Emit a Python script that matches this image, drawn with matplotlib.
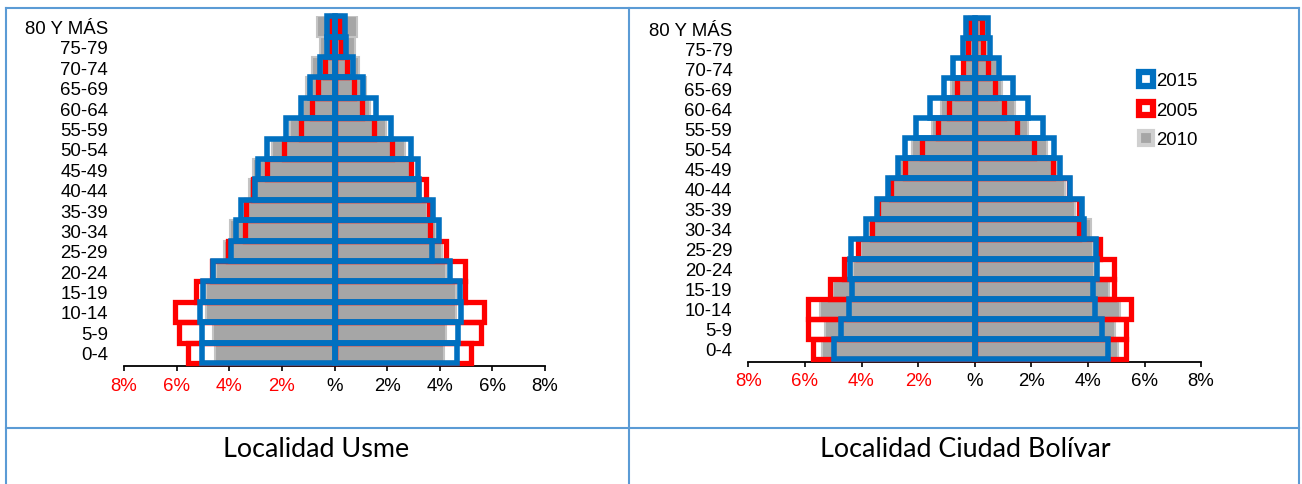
import numpy as np
import matplotlib
matplotlib.use("Agg")
import matplotlib.pyplot as plt
from matplotlib.patches import Rectangle
from matplotlib.lines import Line2D

# grupos de edad, de abajo hacia arriba
grupos = ["0-4", "5-9", "10-14", "15-19", "20-24", "25-29", "30-34", "35-39",
          "40-44", "45-49", "50-54", "55-59", "60-64", "65-69", "70-74", "75-79",
          "80 Y MÁS"]

# Localidad Usme (% de la poblacion), hombres = lado izquierdo
usme_h_2015 = [5.02, 5.03, 5.12, 5.00, 4.62, 3.93, 3.73, 3.56, 3.03, 2.90, 2.58, 1.85, 1.29, 0.94, 0.56, 0.30, 0.27]
usme_m_2015 = [4.66, 4.68, 4.79, 4.76, 4.38, 3.72, 3.98, 3.75, 3.20, 3.18, 2.89, 2.16, 1.57, 1.09, 0.71, 0.43, 0.39]
usme_h_2005 = [5.55, 5.90, 6.06, 5.27, 4.65, 4.05, 3.41, 3.35, 3.10, 2.56, 1.91, 1.28, 0.87, 0.62, 0.37, 0.15, 0.12]
usme_m_2005 = [5.18, 5.55, 5.68, 4.95, 4.95, 4.23, 3.62, 3.60, 3.46, 2.92, 2.19, 1.49, 1.03, 0.73, 0.49, 0.23, 0.20]
usme_h_2010 = [4.55, 4.62, 4.87, 4.87, 4.50, 4.20, 3.98, 3.30, 3.25, 3.09, 2.39, 1.70, 1.19, 1.09, 0.87, 0.56, 0.68]
usme_m_2010 = [4.16, 4.23, 4.60, 4.61, 4.23, 4.10, 3.85, 3.50, 3.30, 2.99, 2.67, 1.97, 1.34, 1.20, 0.94, 0.77, 0.85]

# Localidad Ciudad Bolivar
cb_h_2015 = [4.98, 4.72, 4.45, 4.33, 4.39, 4.37, 3.84, 3.46, 3.07, 2.72, 2.48, 2.07, 1.58, 1.10, 0.75, 0.42, 0.32]
cb_m_2015 = [4.72, 4.49, 4.26, 4.18, 4.31, 4.27, 3.86, 3.80, 3.36, 3.01, 2.80, 2.42, 1.87, 1.36, 0.86, 0.54, 0.48]
cb_h_2005 = [5.71, 5.89, 5.89, 5.12, 4.62, 4.12, 3.64, 3.40, 2.97, 2.45, 1.86, 1.31, 0.90, 0.61, 0.42, 0.25, 0.16]
cb_m_2005 = [5.35, 5.35, 5.52, 4.92, 4.92, 4.42, 3.70, 3.67, 3.34, 2.76, 2.08, 1.49, 1.04, 0.72, 0.48, 0.31, 0.25]
cb_h_2010 = [5.40, 5.28, 5.46, 5.00, 4.30, 4.02, 3.72, 3.35, 2.95, 2.65, 2.22, 1.52, 1.20, 0.85, 0.35, 0.30, 0.20]
cb_m_2010 = [5.07, 4.95, 5.13, 4.75, 4.20, 4.19, 4.10, 3.55, 3.20, 2.90, 2.54, 1.89, 1.42, 0.98, 0.78, 0.40, 0.35]

ticks_x = [-8, -6, -4, -2, 0, 2, 4, 6, 8]

azul = "#0070C0"
rojo = "#FF0000"
gris = "#A6A6A6"
borde_tabla = "#5B9BD5"

plt.rcParams["font.family"] = ["Liberation Sans", "DejaVu Sans"]

fig = plt.figure(figsize=(13.02, 4.85), dpi=100)
W, H = 1302, 485


def piramide(rect, h15, m15, h05, m05, h10, m10, ylo):
    ax = fig.add_axes(rect)
    y = np.arange(len(grupos))
    # 2010: barras grises rellenas
    ax.barh(y, -np.array(h10), height=1.0, color=gris, edgecolor="#C4C4C4", linewidth=1.5, zorder=2)
    ax.barh(y, m10, height=1.0, color=gris, edgecolor="#C4C4C4", linewidth=1.5, zorder=2)
    # 2005: solo contorno rojo
    ax.barh(y, -np.array(h05), height=1.0, fill=False, edgecolor=rojo, linewidth=3.8, zorder=3, clip_on=False)
    ax.barh(y, m05, height=1.0, fill=False, edgecolor=rojo, linewidth=3.8, zorder=3, clip_on=False)
    # 2015: contorno azul
    ax.barh(y, -np.array(h15), height=1.0, fill=False, edgecolor=azul, linewidth=4.0, zorder=4, clip_on=False)
    ax.barh(y, m15, height=1.0, fill=False, edgecolor=azul, linewidth=4.0, zorder=4, clip_on=False)

    ax.set_xlim(-8, 8)
    ax.set_ylim(ylo, len(grupos) - 0.5)
    ax.set_yticks(y, grupos)
    ax.tick_params(axis="y", length=0, pad=11.5, labelsize=13.4)
    ax.set_xticks(ticks_x, [f"{abs(t)}%" if t != 0 else "%" for t in ticks_x])
    ax.tick_params(axis="x", length=3.6, width=1.2, pad=4, labelsize=13.4, direction="out")
    for lab, t in zip(ax.get_xticklabels(), ticks_x):
        lab.set_color(rojo if t < 0 else "black")
    for s in ["top", "left", "right"]:
        ax.spines[s].set_visible(False)
    ax.spines["bottom"].set_linewidth(1.3)
    ax.set_facecolor("none")

    # eje vertical en 0 con marcas
    sec = ax.secondary_yaxis(0.5)
    sec.set_alignment("left")
    sec.set_yticks(np.arange(len(grupos) + 1) - 0.5)
    sec.set_yticks(y, minor=True)
    sec.set_yticklabels([])
    sec.tick_params(which="major", direction="out", length=3.5, width=1.1)
    sec.tick_params(which="minor", direction="in", length=3.5, width=1.1)
    sec.spines["left"].set_linewidth(1.5)
    sec.spines["left"].set_zorder(6)
    return ax


ax1 = piramide([124 / W, 1 - 367 / H, 421 / W, (367 - 17.3) / H],
               usme_h_2015, usme_m_2015, usme_h_2005, usme_m_2005, usme_h_2010, usme_m_2010, -0.65)
ax2 = piramide([748.3 / W, 1 - 362.7 / H, 452.8 / W, (362.7 - 19) / H],
               cb_h_2015, cb_m_2015, cb_h_2005, cb_m_2005, cb_h_2010, cb_m_2010, -0.635)

# leyenda
manijas = [Rectangle((0, 0), 1, 1, facecolor="white", edgecolor=azul, linewidth=4.5),
           Rectangle((0, 0), 1, 1, facecolor="white", edgecolor=rojo, linewidth=4.5),
           Rectangle((0, 0), 1, 1, facecolor=gris, edgecolor="#D0D0D0", linewidth=3)]
ax2.legend(manijas, ["2015", "2005", "2010"], loc="upper left",
           bbox_to_anchor=(1139 / W, 1 - 73 / H), bbox_transform=fig.transFigure,
           frameon=False, fontsize=13.4, handlelength=0.75, handleheight=0.75,
           handletextpad=0.15, labelspacing=0.66, borderpad=0, borderaxespad=0)

# bordes de la tabla
for (x0, y0, x1, y1) in [(6, 9, 1299, 9), (6, 9, 6, 485), (1299, 9, 1299, 485),
                         (629, 9, 629, 485), (6, 429, 1299, 429)]:
    fig.add_artist(Line2D([x0 / W, x1 / W], [1 - y0 / H, 1 - y1 / H],
                          color=borde_tabla, linewidth=1.5))

fig.text(316 / W, 1 - 450 / H, "Localidad Usme", ha="center", va="center",
         fontsize=19.4, family=["Lato", "DejaVu Sans"])
fig.text(965 / W, 1 - 450 / H, "Localidad Ciudad Bolívar", ha="center", va="center",
         fontsize=19.4, family=["Lato", "DejaVu Sans"])

fig.savefig("out.png", dpi=100)
